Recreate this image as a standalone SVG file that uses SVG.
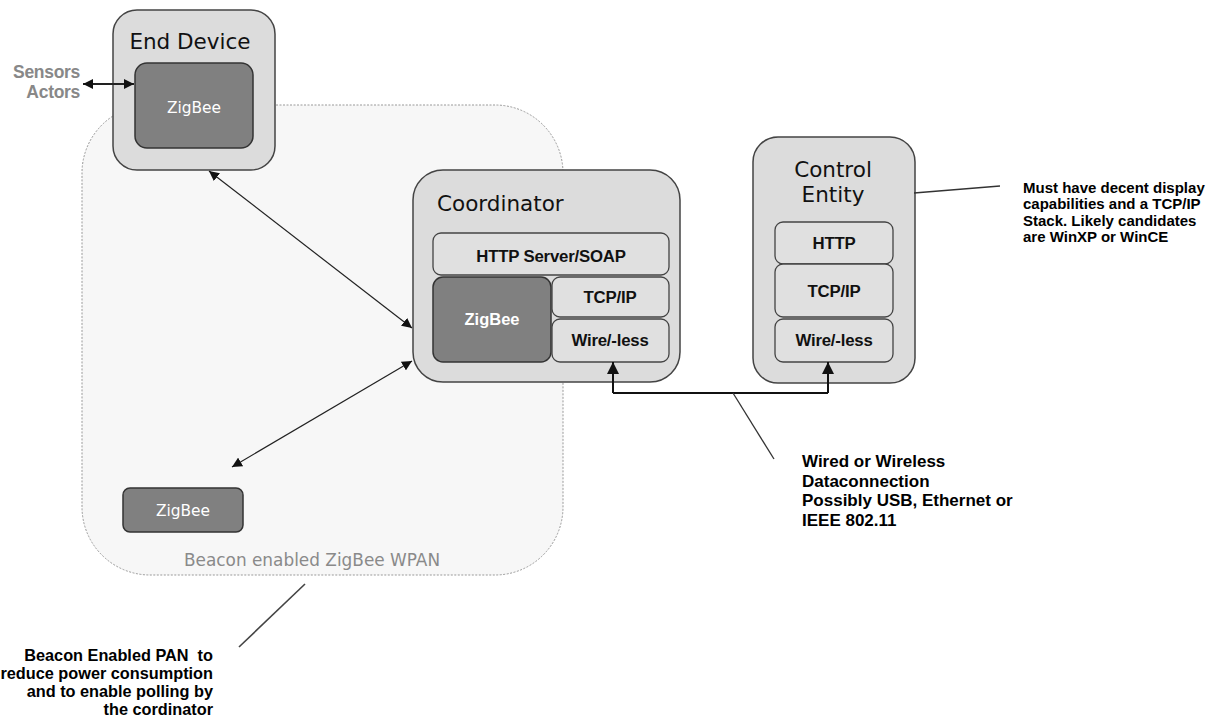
<svg xmlns="http://www.w3.org/2000/svg" width="1225" height="720" viewBox="0 0 1225 720">
<defs>
<style>
.outer{fill:#dcdcdc;stroke:#444;stroke-width:1.5}
.dark{fill:#808080;stroke:#333;stroke-width:1.5}
.layer{fill:#e0e0e0;stroke:#444;stroke-width:1.3}
.title{font-family:"DejaVu Sans",Verdana,sans-serif;font-size:21.5px;fill:#111}
.lbl{font-family:"Liberation Sans",Arial,sans-serif;font-size:16.8px;font-weight:bold;fill:#111;text-anchor:middle;letter-spacing:-0.2px}
.zb{font-family:"DejaVu Sans",Verdana,sans-serif;font-size:15.4px;fill:#fff;text-anchor:middle}
.note{font-family:"Liberation Sans",Arial,sans-serif;font-weight:bold;fill:#000}
.conn{fill:none;stroke:#222;stroke-width:1.2}
.wire{fill:none;stroke:#111;stroke-width:2}
</style>
<marker id="ah" viewBox="0 0 10 10" refX="10" refY="5" markerWidth="10" markerHeight="10" markerUnits="userSpaceOnUse" orient="auto-start-reverse">
<path d="M0,0 L10,5 L0,10 z" fill="#111"/>
</marker>
<marker id="ahw" viewBox="0 0 10 10" refX="10" refY="5" markerWidth="12" markerHeight="12" markerUnits="userSpaceOnUse" orient="auto">
<path d="M0,0 L10,5 L0,10 z" fill="#111"/>
</marker>
</defs>
<rect width="1225" height="720" fill="#fff"/>

<g id="wpan">
<rect x="82" y="105" width="481" height="470" rx="68" ry="68" fill="#f7f7f7" stroke="#999" stroke-width="1" stroke-dasharray="2,1.5"/>
<text x="312" y="566" font-family="DejaVu Sans,Verdana,sans-serif" font-size="16.9" fill="#8a8a8a" text-anchor="middle">Beacon enabled ZigBee WPAN</text>
</g>

<g id="sensors">
<text x="80" y="78" font-family="Liberation Sans,Arial,sans-serif" font-size="17.5" font-weight="bold" fill="#888" text-anchor="end" letter-spacing="-0.3">Sensors</text>
<text x="80" y="98" font-family="Liberation Sans,Arial,sans-serif" font-size="17.5" font-weight="bold" fill="#888" text-anchor="end" letter-spacing="-0.3">Actors</text>
</g>

<g id="end-device">
<rect class="outer" x="113" y="10" width="162" height="160" rx="24"/>
<text class="title" x="190" y="49" text-anchor="middle">End Device</text>
<rect class="dark" x="135" y="63" width="118" height="85" rx="12"/>
<text class="zb" x="194" y="113">ZigBee</text>
</g>

<g id="coordinator">
<rect class="outer" x="413" y="170" width="267" height="212" rx="30"/>
<text class="title" x="437" y="211">Coordinator</text>
<rect class="layer" x="433" y="233" width="236" height="42" rx="8"/>
<text class="lbl" x="551" y="262">HTTP Server/SOAP</text>
<rect class="dark" x="433" y="277" width="118" height="85" rx="10"/>
<text x="492" y="325" font-family="Liberation Sans,Arial,sans-serif" font-size="16.5" font-weight="bold" fill="#fff" text-anchor="middle">ZigBee</text>
<rect class="layer" x="552" y="277" width="117" height="40" rx="8"/>
<text class="lbl" x="610" y="303">TCP/IP</text>
<rect class="layer" x="552" y="319" width="117" height="43" rx="8"/>
<text class="lbl" x="610" y="346">Wire/-less</text>
</g>

<g id="control-entity">
<rect class="outer" x="753" y="137" width="162" height="246" rx="25"/>
<text class="title" x="833" y="177" text-anchor="middle">Control</text>
<text class="title" x="833" y="202" text-anchor="middle">Entity</text>
<rect class="layer" x="775" y="222" width="118" height="42" rx="8"/>
<text class="lbl" x="834" y="249">HTTP</text>
<rect class="layer" x="775" y="264" width="118" height="53" rx="8"/>
<text class="lbl" x="834" y="297">TCP/IP</text>
<rect class="layer" x="775" y="319" width="118" height="43" rx="8"/>
<text class="lbl" x="834" y="346">Wire/-less</text>
</g>

<g id="zigbee-node">
<rect class="dark" x="123" y="488" width="120" height="44" rx="7"/>
<text class="zb" x="183" y="516">ZigBee</text>
</g>

<g id="connectors">
<line class="conn" x1="209" y1="171" x2="412" y2="328" marker-start="url(#ah)" marker-end="url(#ah)"/>
<line class="conn" x1="412" y1="361" x2="232" y2="467" marker-start="url(#ah)" marker-end="url(#ah)"/>
<line x1="83" y1="84" x2="134" y2="84" stroke="#222" stroke-width="2" marker-start="url(#ah)" marker-end="url(#ah)"/>
<path class="wire" d="M613,393 L828,393"/>
<line class="wire" x1="613" y1="393" x2="613" y2="362" marker-end="url(#ahw)"/>
<line class="wire" x1="828" y1="393" x2="828" y2="362" marker-end="url(#ahw)"/>
<line x1="733" y1="393" x2="774" y2="459" stroke="#333" stroke-width="1.3"/>
<line x1="914" y1="193" x2="1000" y2="186" stroke="#333" stroke-width="1.3"/>
<line x1="239" y1="647" x2="305" y2="584" stroke="#444" stroke-width="1.6"/>
</g>

<g id="note-control" class="note" font-size="15">
<text x="1023" y="193">Must have decent display</text>
<text x="1023" y="209">capabilities and a TCP/IP</text>
<text x="1023" y="226">Stack. Likely candidates</text>
<text x="1023" y="242">are WinXP or WinCE</text>
</g>

<g id="note-wire" class="note" font-size="17">
<text x="802" y="467">Wired or Wireless</text>
<text x="802" y="487">Dataconnection</text>
<text x="802" y="506">Possibly USB, Ethernet or</text>
<text x="802" y="526">IEEE 802.11</text>
</g>

<g id="note-beacon" class="note" font-size="16.3" text-anchor="end">
<text x="213" y="661">Beacon Enabled PAN&#160; to</text>
<text x="213" y="679">reduce power consumption</text>
<text x="213" y="697">and to enable polling by</text>
<text x="213" y="715">the cordinator</text>
</g>
</svg>
